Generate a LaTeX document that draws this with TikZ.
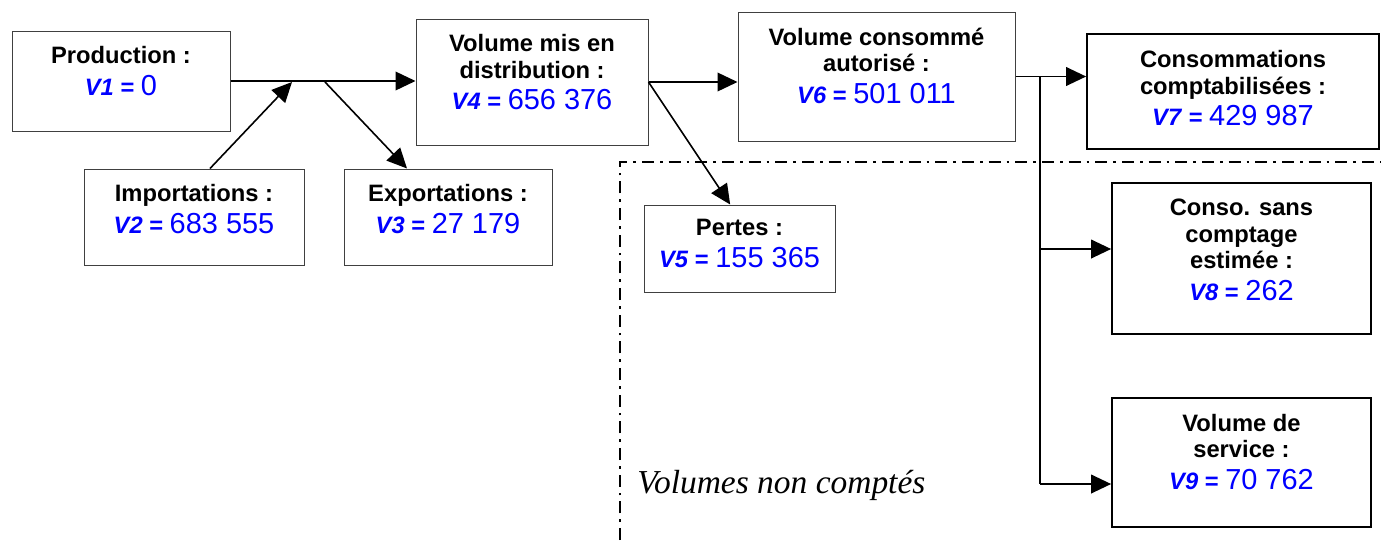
\documentclass[tikz,border=0pt]{standalone}
\usepackage{fontspec}
\setmainfont{Liberation Sans}
\newfontfamily\notefont{Liberation Serif}
\usetikzlibrary{arrows.meta,positioning,fit}
\definecolor{vblue}{RGB}{0,0,255}
% value line of a box: bold italic name, regular number
\newcommand{\volval}[2]{\textcolor{vblue}{\textit{#1} = {\fontsize{21.7}{26}\selectfont\mdseries #2}}}
\tikzset{
  box/.style={draw=black!75, line width=0.75pt, inner sep=0pt},
  boxb/.style={draw=black, line width=1.3pt, inner sep=0pt},
  boxtext/.style={align=center, inner sep=0pt, font=\fontsize{17.8}{20}\selectfont\bfseries},
  flow/.style={-{Triangle[length=15pt,width=14pt]}, line width=1.2pt},
  dashdot/.style={line width=1.4pt, dash pattern=on 9pt off 4.5pt on 2pt off 4.5pt}
}
\begin{document}
\begin{tikzpicture}[x=0.75pt,y=-0.75pt]
\useasboundingbox (0,0) rectangle (1381,540);
% boxes
\foreach \n/\s/\xa/\ya/\xb/\yb in {prod/box/12/31/230/131, imp/box/84/169/304/265,
  exp/box/344/169/552/265, dist/box/416/19/648/145, cons/box/738/12/1015/141,
  comp/boxb/1087/34/1379/149, pertes/box/644/205/835/292,
  sans/boxb/1112/183/1371/334, serv/boxb/1112/398/1371/527}
  \node[\s, fit={(\xa,\ya) (\xb,\yb)}] (\n) {};
% texts
\node[boxtext, below=12pt of prod.north] (prod-t) {Production :\\[3.5pt]\volval{V1}{0}};
\node[boxtext, below=12pt of imp.north] (imp-t) {Importations :\\[3.5pt]\volval{V2}{683 555}};
\node[boxtext, below=12pt of exp.north] (exp-t) {Exportations :\\[3.5pt]\volval{V3}{27 179}};
\node[boxtext, below=12pt of dist.north] (dist-t) {Volume mis en\\distribution :\\[3.5pt]\volval{V4}{656 376}};
\node[boxtext, below=12pt of cons.north] (cons-t) {Volume consommé\\autorisé :\\[3.5pt]\volval{V6}{501 011}};
\node[boxtext, below=13pt of comp.north] (comp-t) {Consommations\\comptabilisées :\\[3.5pt]\volval{V7}{429 987}};
\node[boxtext, below=11pt of pertes.north] (pertes-t) {Pertes :\\[3.5pt]\volval{V5}{155 365}};
\node[boxtext, below=12.5pt of sans.north] (sans-t) {Conso. sans\\comptage\\estimée :\\[3.5pt]\volval{V8}{262}};
\node[boxtext, below=12.5pt of serv.north] (serv-t) {Volume de\\service :\\[3.5pt]\volval{V9}{70 762}};
% unmetered area
\draw[dashdot] (620,540) -- (620,162) -- (1381,162);
\node[anchor=base west, inner sep=0pt, font=\notefont\itshape\fontsize{25.1}{28}\selectfont] (nc) at (637,493) {Volumes non comptés};
% connectors
\coordinate (j1) at (292,82);
\coordinate (j2) at (325,82);
\coordinate (j3) at (1040,77);
\coordinate (j4) at (1040,249);
\coordinate (j5) at (1040,484);
\draw[flow] (prod.east) -- (prod.east -| dist.west);
\draw[flow] ([xshift=12pt]imp.north) -- (j1);
\draw[flow] (j2) -- ([xshift=-30.75pt]exp.north);
\draw[flow] (dist.east) -- (dist.east -| cons.west);
\draw[flow] (dist.east) -- ([xshift=-7pt]pertes.north);
\draw[flow] (cons.east) -- (cons.east -| comp.west);
\draw[line width=1.2pt] (j3) -- (j5);
\draw[flow] (j4) -- (j4 -| sans.west);
\draw[flow] (j5) -- (j5 -| serv.west);
\end{tikzpicture}
\end{document}
